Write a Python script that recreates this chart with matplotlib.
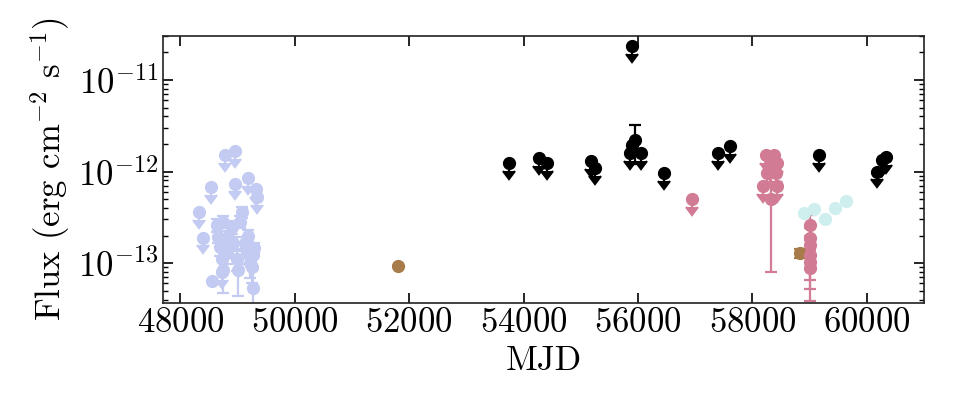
import matplotlib
matplotlib.use("Agg")
import matplotlib.pyplot as plt
import numpy as np

plt.rcParams['font.family'] = 'serif'
plt.rcParams['font.serif'] = ['cmr10']
plt.rcParams['mathtext.fontset'] = 'cm'
plt.rcParams['axes.formatter.use_mathtext'] = True

# ---------------- data ----------------
# lavender (early survey)
blue_ul_x = [48330, 48388, 48539, 48725, 48788, 48957, 48957, 49188, 49322, 49334]
blue_ul_y = [3.6e-13, 1.9e-13, 6.8e-13, 8.0e-14, 1.51e-12, 1.69e-12, 7.4e-13, 8.4e-13, 6.5e-13, 5.3e-13]

blue_det_x = [48551, 48638, 48666, 48696, 48725, 48753, 48753, 48812, 48840, 48899, 48927, 48986,
              49014, 49043, 49073, 49130, 49160, 49188, 49217, 49247, 49275, 49275, 49290]
blue_det_y = [6.3e-14, 2.6e-13, 1.94e-13, 1.5e-13, 1.12e-13, 2.83e-13, 8.4e-14, 1.28e-13, 1.94e-13,
              2.5e-13, 1.64e-13, 1.12e-13, 8.4e-14, 2.83e-13, 3.63e-13, 1.64e-13, 1.28e-13, 2.0e-13,
              9.9e-14, 9.1e-14, 1.22e-13, 5.3e-14, 1.45e-13]
blue_det_err = [0.0, 4e-14, 3e-14, 3e-14, 3e-14, 4e-14, 3.7e-14, 3e-14, 3e-14,
                4e-14, 3e-14, 3e-14, 4.0e-14, 4e-14, 5e-14, 3e-14, 3e-14, 3e-14,
                3e-14, 3e-14, 3.5e-14, 3.6e-14, 2e-14]

# brown
brown_x = [51800, 58840]
brown_y = [9.3e-14, 1.28e-13]
brown_err = [0.0, 1.3e-14]

# black upper limits
black_ul_x = [53739, 54261, 54405, 55177, 55247, 55901, 55856, 56047, 56447, 57403, 57612,
              59170, 60174, 60261, 60336]
black_ul_y = [1.25e-12, 1.42e-12, 1.23e-12, 1.31e-12, 1.08e-12, 2.35e-11, 1.61e-12, 1.58e-12,
              9.55e-13, 1.6e-12, 1.91e-12, 1.51e-12, 1.0e-12, 1.34e-12, 1.45e-12]
black_det_x = [55890, 55943]
black_det_y = [1.95e-12, 2.2e-12]
black_det_err = [0.0, 1.0e-12]

# pink
pink_ul_x = [56939, 58190, 58231, 58261, 58377, 58405, 58435, 58430, 58300]
pink_ul_y = [5.0e-13, 7.0e-13, 1.51e-12, 9.55e-13, 1.51e-12, 9.55e-13, 1.23e-12, 7.0e-13, 1.2e-12]
pink_det_x = [58320, 59015, 59015, 59015, 59015, 59015, 59015]
pink_det_y = [5.0e-13, 2.6e-13, 1.9e-13, 1.57e-13, 1.22e-13, 1.04e-13, 8.9e-14]
pink_det_err = [4.2e-13, 7.5e-14, 5e-14, 4e-14, 5.6e-14, 5.2e-14, 5.0e-14]

# light cyan
cyan_x = [58896, 59078, 59261, 59449, 59630]
cyan_y = [3.52e-13, 3.87e-13, 3.0e-13, 3.95e-13, 4.8e-13]

c_blue = '#c3cbf2'
c_brown = '#a87b4b'
c_black = '#000000'
c_pink = '#d17c94'
c_cyan = '#cfeeee'

fig = plt.figure(figsize=(9.6, 4.2), dpi=100)
ax = fig.add_axes([0.170, 0.279, 0.7925, 0.636])

ms = 8.5
cs = 4
elw = 1.6
ul_frac = 0.18


def uls(x, y, color):
    y = np.asarray(y)
    ax.errorbar(x, y, yerr=ul_frac * y, uplims=True, fmt='o', color=color, ms=ms,
                capsize=cs, elinewidth=elw, capthick=elw, lw=0)


def dets(x, y, err, color):
    ax.errorbar(x, y, yerr=err, fmt='o', color=color, ms=ms,
                capsize=cs, elinewidth=elw, capthick=elw, lw=0)


uls(blue_ul_x, blue_ul_y, c_blue)
dets(blue_det_x, blue_det_y, blue_det_err, c_blue)
dets(brown_x, brown_y, brown_err, c_brown)
uls(black_ul_x, black_ul_y, c_black)
dets(black_det_x, black_det_y, black_det_err, c_black)
uls(pink_ul_x, pink_ul_y, c_pink)
dets(pink_det_x, pink_det_y, pink_det_err, c_pink)
dets(cyan_x, cyan_y, [0.0] * len(cyan_x), c_cyan)

ax.set_yscale('log')
ax.set_xlim(47700, 61000)
ax.set_ylim(3.68e-14, 3.05e-11)
ax.set_xticks([48000, 50000, 52000, 54000, 56000, 58000, 60000])

fs = 25
ax.tick_params(which='both', direction='in', top=True, right=True, labelsize=fs)
ax.tick_params(which='major', length=7, width=1.2)
ax.tick_params(which='minor', length=3.5, width=1.0)
for s in ax.spines.values():
    s.set_linewidth(1.2)
    s.set_color('#222222')

ax.set_xlabel('MJD', fontsize=fs)
ax.set_ylabel(r'Flux (erg cm$^{-2}$ s$^{-1}$)', fontsize=fs)

fig.savefig('out.png', dpi=100)
